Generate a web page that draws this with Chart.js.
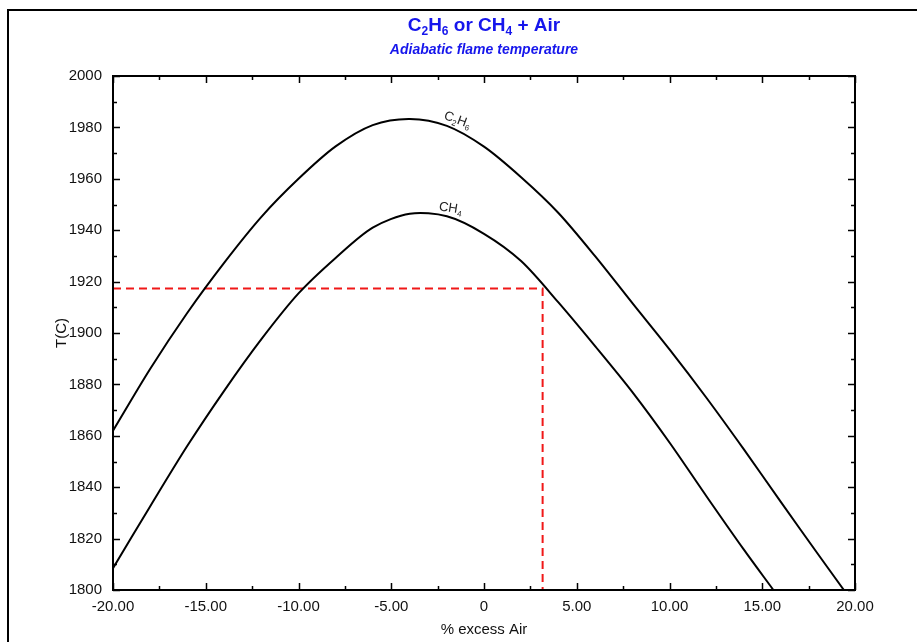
<!DOCTYPE html>
<html>
<head>
<meta charset="utf-8">
<script src="https://cdn.jsdelivr.net/npm/chart.js@4.4.1/dist/chart.umd.min.js"></script>
<style>
html,body{margin:0;padding:0;background:#fff;}
#wrap{width:917px;height:642px;position:relative;}
</style>
</head>
<body>
<div id="wrap"><canvas id="cv" width="917" height="642"></canvas></div>
<script>
/***** data *****/
// % excess air -> adiabatic flame temperature (C)
const C2H6_X = [-20, -18, -16, -14, -12, -10, -8, -6, -4, -2, 0, 2, 4, 6, 8, 10, 12, 14, 16, 18, 19.4];
const C2H6_T = [1862, 1886, 1907.8, 1927.4, 1945.2, 1960, 1972.6, 1980.9, 1983.3, 1980.6, 1972.5, 1960.6, 1946.8, 1929.8, 1911.6, 1893.6, 1874.7, 1854.8, 1834.3, 1814, 1800];
const CH4_X = [-20, -18, -16, -14, -12, -10, -8, -6, -4, -2, 0, 2, 4, 6, 8, 10, 12, 14, 15.6];
const CH4_T = [1808.5, 1832.5, 1856, 1877.6, 1897.6, 1915.4, 1929.2, 1941, 1946.4, 1945.4, 1938.6, 1928, 1912, 1894.8, 1877, 1857.4, 1836.4, 1815.8, 1800];
// red guide: 1917.3 C read across to CH4 at ~3.16 % excess air
const GUIDE_X = [-20, 3.16, 3.16];
const GUIDE_T = [1917.3, 1917.3, 1800];

const X_TICKS = [-20, -15, -10, -5, 0, 5, 10, 15, 20];
const Y_TICKS = [1800, 1820, 1840, 1860, 1880, 1900, 1920, 1940, 1960, 1980, 2000];

/***** utils *****/
const FONT = '"Liberation Sans", Arial, Helvetica, sans-serif';
const BLUE = '#1616ec';
const pts = (xs, ys) => xs.map((x, i) => ({ x, y: ys[i] }));

// draws text with subscripts: parts = [[text, isSub], ...]
function richText(ctx, parts, x, y, size, subSize, weight, style, align){
  const f = (s) => `${style} ${weight} ${s}px ${FONT}`;
  let w = 0;
  parts.forEach(([t, sub]) => { ctx.font = f(sub ? subSize : size); w += ctx.measureText(t).width; });
  let cx = align === 'center' ? x - w / 2 : x;
  ctx.textAlign = 'left';
  ctx.textBaseline = 'alphabetic';
  parts.forEach(([t, sub]) => {
    ctx.font = f(sub ? subSize : size);
    ctx.fillText(t, cx, sub ? y + Math.round(size * 0.2) : y);
    cx += ctx.measureText(t).width;
  });
}

/***** plugin: frame, inner ticks, titles, curve labels *****/
const decor = {
  id: 'decor',
  beforeDraw(chart){
    const ctx = chart.ctx;
    ctx.save();
    ctx.fillStyle = '#fff';
    ctx.fillRect(0, 0, chart.width, chart.height);
    ctx.strokeStyle = '#000';
    ctx.lineWidth = 2;
    ctx.strokeRect(8, 10, chart.width + 20, chart.height + 20);
    ctx.restore();
  },
  afterDraw(chart){
    const { ctx, chartArea: a, scales: { x, y } } = chart;
    ctx.save();
    ctx.strokeStyle = '#000';
    ctx.lineWidth = 2;
    ctx.strokeRect(a.left, a.top, a.right - a.left, a.bottom - a.top);

    // inward ticks on all four sides (major + minor)
    ctx.lineWidth = 1.5;
    ctx.beginPath();
    for (let v = x.min; v <= x.max + 1e-9; v += 2.5){
      const px = Math.round(x.getPixelForValue(v)) + 0.5;
      const len = Math.abs(v % 5) < 1e-9 ? 7 : 4;
      ctx.moveTo(px, a.bottom); ctx.lineTo(px, a.bottom - len);
      ctx.moveTo(px, a.top); ctx.lineTo(px, a.top + len);
    }
    for (let v = y.min; v <= y.max + 1e-9; v += 10){
      const py = Math.round(y.getPixelForValue(v)) + 0.5;
      const len = Math.abs(v % 20) < 1e-9 ? 7 : 4;
      ctx.moveTo(a.left, py); ctx.lineTo(a.left + len, py);
      ctx.moveTo(a.right, py); ctx.lineTo(a.right - len, py);
    }
    ctx.stroke();

    // titles
    ctx.fillStyle = BLUE;
    const cx = (a.left + a.right) / 2;
    richText(ctx, [['C', 0], ['2', 1], ['H', 0], ['6', 1], [' or CH', 0], ['4', 1], [' + Air', 0]],
      cx, 31, 19, 12, 'bold', 'normal', 'center');
    richText(ctx, [['Adiabatic flame temperature', 0]], cx, 54, 14, 14, 'bold', 'italic', 'center');

    // curve labels, anchored at data coordinates
    ctx.fillStyle = '#222';
    const lab = (parts, vx, vy, rot) => {
      ctx.save();
      ctx.translate(x.getPixelForValue(vx), y.getPixelForValue(vy));
      ctx.rotate(rot * Math.PI / 180);
      richText(ctx, parts, 0, 0, 13, 8, 'normal', 'normal', 'left');
      ctx.restore();
    };
    lab([['C', 0], ['2', 1], ['H', 0], ['6', 1]], -2.2, 1983.4, 20);
    lab([['CH', 0], ['4', 1]], -2.45, 1947.8, 9);
    ctx.restore();
  }
};

/***** chart *****/
const tickFont = { family: FONT, size: 15 };
new Chart(document.getElementById('cv'), {
  type: 'scatter',
  data: {
    datasets: [
      { label: 'C2H6', data: pts(C2H6_X, C2H6_T), borderColor: '#000', borderWidth: 2, showLine: true, pointRadius: 0, tension: 0.3 },
      { label: 'CH4', data: pts(CH4_X, CH4_T), borderColor: '#000', borderWidth: 2, showLine: true, pointRadius: 0, tension: 0.3 },
      { label: 'guide', data: pts(GUIDE_X, GUIDE_T), borderColor: '#f01818', borderWidth: 2, borderDash: [8, 5], showLine: true, pointRadius: 0, tension: 0 }
    ]
  },
  options: {
    responsive: false,
    animation: false,
    devicePixelRatio: 1,
    layout: { padding: { left: 8, top: 76, right: 62, bottom: 0 } },
    plugins: { legend: { display: false }, tooltip: { enabled: false } },
    scales: {
      x: {
        type: 'linear', min: -20, max: 20,
        afterBuildTicks: (s) => { s.ticks = X_TICKS.map(v => ({ value: v })); },
        afterFit: (s) => { s.height = 52; },
        ticks: { font: tickFont, color: '#111', padding: 8, maxRotation: 0, autoSkip: false,
          callback: (v) => v === 0 ? '0' : Number(v).toFixed(2) },
        grid: { display: false, drawTicks: false },
        border: { display: false },
        title: { display: true, text: '% excess Air', font: tickFont, color: '#111', padding: { top: 0, bottom: 3 } }
      },
      y: {
        type: 'linear', min: 1800, max: 2000,
        afterBuildTicks: (s) => { s.ticks = Y_TICKS.map(v => ({ value: v })); },
        afterFit: (s) => { s.width = 105; },
        ticks: { font: tickFont, color: '#111', padding: 11, autoSkip: false,
          callback: (v) => String(v) },
        grid: { display: false, drawTicks: false },
        border: { display: false },
        title: { display: true, text: 'T(C)', font: tickFont, color: '#111', padding: { top: 45, bottom: 0 } }
      }
    }
  },
  plugins: [decor]
});
</script>
</body>
</html>
